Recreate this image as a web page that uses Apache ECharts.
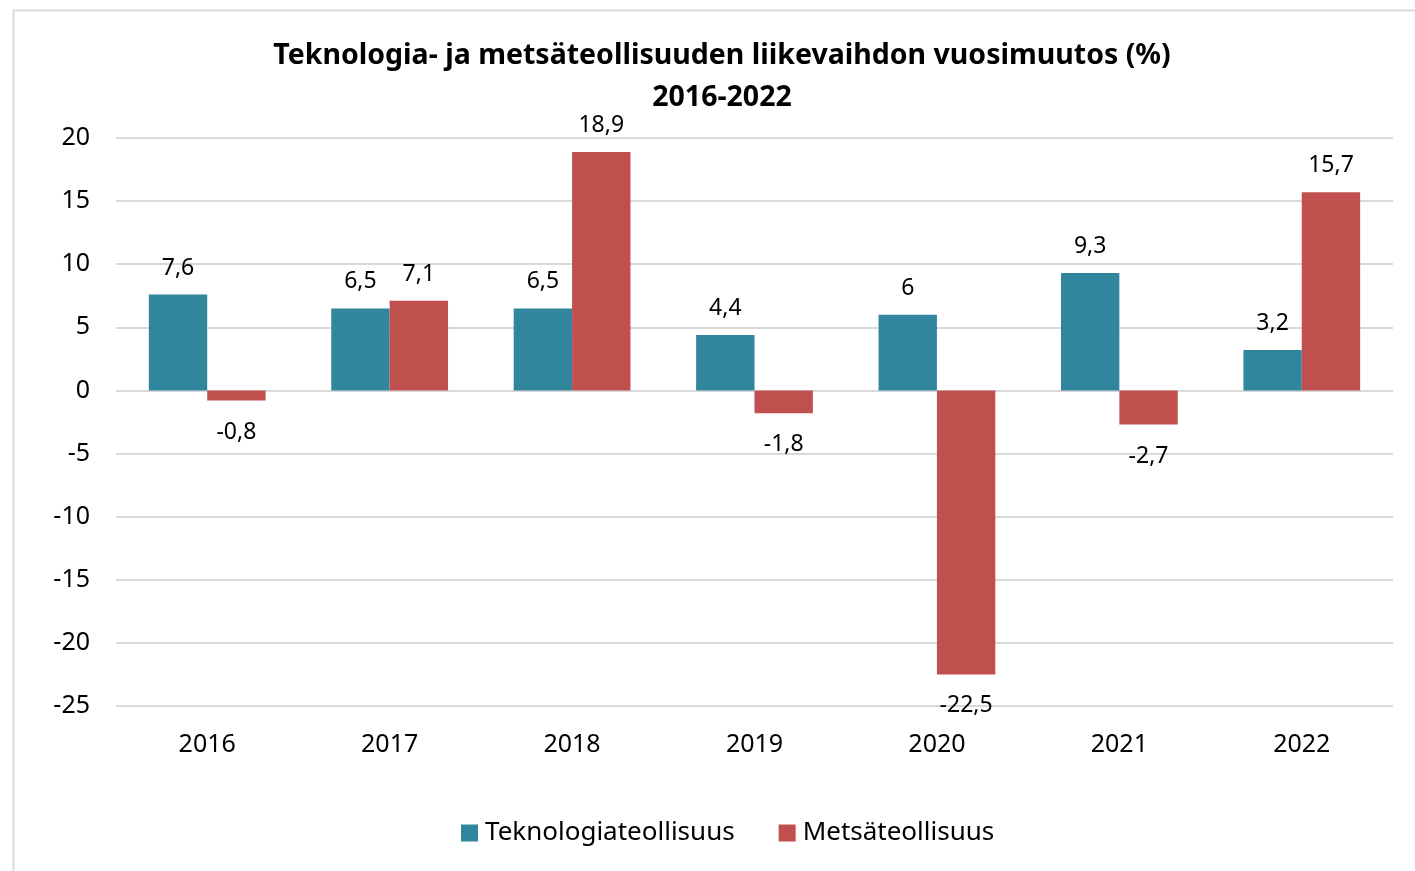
<!DOCTYPE html>
<html>
<head>
<meta charset="utf-8">
<script src="https://cdn.jsdelivr.net/npm/echarts@6/dist/echarts.min.js"></script>
<style>
  html, body { margin: 0; padding: 0; background: #fff; }
  #chart { width: 1415px; height: 871px; }
</style>
</head>
<body>
<div id="chart"></div>
<script>
const years = ['2016', '2017', '2018', '2019', '2020', '2021', '2022'];
const tekno = [7.6, 6.5, 6.5, 4.4, 6, 9.3, 3.2];
const metsa = [-0.8, 7.1, 18.9, -1.8, -22.5, -2.7, 15.7];
const seriesNames = ['Teknologiateollisuus', 'Metsäteollisuus'];

const FONT = 'Noto Sans';
const fmt = v => String(v).replace('.', ',');

// negative values get their label under the bar, a bit further away
function toData(arr) {
  return arr.map(v => ({
    value: v,
    label: v < 0 ? { position: 'bottom', distance: 20 } : { position: 'top', distance: 15 }
  }));
}

const chart = echarts.init(document.getElementById('chart'));

chart.setOption({
  backgroundColor: '#fff',
  textStyle: { fontFamily: FONT, color: '#000' },
  graphic: [{
    type: 'rect',
    shape: { x: 13.5, y: 10.5, width: 1600, height: 1000 },
    style: { fill: 'none', stroke: '#d9d9d9', lineWidth: 2 },
    silent: true
  }],
  title: {
    text: 'Teknologia- ja metsäteollisuuden liikevaihdon vuosimuutos (%)\n2016-2022',
    left: 717,
    textAlign: 'center',
    top: 30,
    textStyle: { fontFamily: FONT, fontSize: 28.5, fontWeight: 'bold', color: '#000', lineHeight: 42 }
  },
  legend: {
    bottom: 20,
    left: 456,
    itemWidth: 17,
    itemHeight: 17,
    itemGap: 44,
    icon: 'rect',
    textStyle: { fontFamily: FONT, fontSize: 26, color: '#000', padding: [0, 0, 0, 2] },
    data: seriesNames
  },
  grid: { left: 116, right: 22, top: 138, bottom: 165, containLabel: false, outerBoundsMode: 'none' },
  xAxis: {
    type: 'category',
    data: years,
    axisLine: { show: false },
    axisTick: { show: false },
    axisLabel: { fontFamily: FONT, fontSize: 25, color: '#000', margin: 26 }
  },
  yAxis: {
    type: 'value',
    min: -25,
    max: 20,
    interval: 5,
    axisLine: { show: false },
    axisTick: { show: false },
    axisLabel: { fontFamily: FONT, fontSize: 25, color: '#000', margin: 26 },
    splitLine: { lineStyle: { color: '#d9d9d9', width: 2 } }
  },
  series: [
    {
      name: seriesNames[0],
      type: 'bar',
      data: toData(tekno),
      barGap: '0%',
      barCategoryGap: '36%',
      itemStyle: { color: '#31859c' },
      label: { show: true, fontFamily: FONT, fontSize: 23, color: '#000', formatter: p => fmt(p.value) }
    },
    {
      name: seriesNames[1],
      type: 'bar',
      data: toData(metsa),
      barGap: '0%',
      barCategoryGap: '36%',
      itemStyle: { color: '#c0504d' },
      label: { show: true, fontFamily: FONT, fontSize: 23, color: '#000', formatter: p => fmt(p.value) }
    }
  ]
});
</script>
</body>
</html>
